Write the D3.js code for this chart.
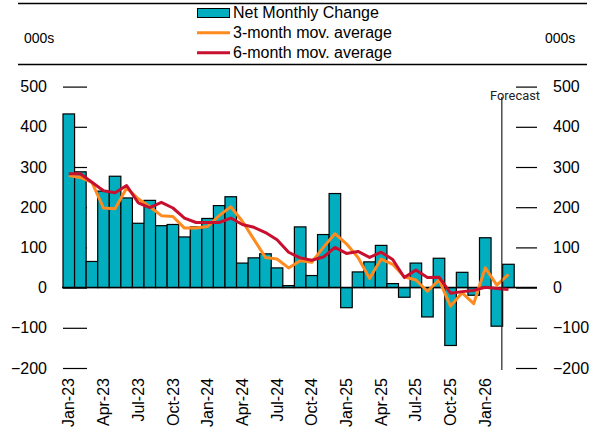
<!DOCTYPE html>
<html><head><meta charset="utf-8">
<script src="https://cdn.jsdelivr.net/npm/d3@7"></script>
<style>
html,body{margin:0;padding:0;background:#fff;}
svg{display:block;font-family:"Liberation Sans",Arial,sans-serif;}
</style></head>
<body><svg id="c" width="601" height="435"></svg>
<script>
const months = ["Jan-23","Feb-23","Mar-23","Apr-23","May-23","Jun-23","Jul-23","Aug-23","Sep-23","Oct-23","Nov-23","Dec-23",
"Jan-24","Feb-24","Mar-24","Apr-24","May-24","Jun-24","Jul-24","Aug-24","Sep-24","Oct-24","Nov-24","Dec-24",
"Jan-25","Feb-25","Mar-25","Apr-25","May-25","Jun-25","Jul-25","Aug-25","Sep-25","Oct-25","Nov-25","Dec-25",
"Jan-26","Feb-26","Mar-26"];
const netChange = [432,288,65,240,277,223,160,217,154,157,126,151,172,204,226,61,74,84,49,5,151,30,132,234,-50,39,64,105,10,-24,61,-73,73,-144,38,-19,124,-96,58];
const ma3 = [279,274,262,198,196,248,221,201,179,177,148,148,152,179,201,165,120,75,71,49,67,63,100,134,109,75,23,71,58,27,19,-9,19,-46,-13,-40,49,6,33];
const ma6 = [283,283,262,241,236,254,211,199,212,198,173,162,162,162,173,157,150,137,119,88,74,68,76,100,85,90,75,88,70,25,44,25,26,-14,-10,-7,1,-2,-5];
const xTickLabels = ["Jan-23","Apr-23","Jul-23","Oct-23","Jan-24","Apr-24","Jul-24","Oct-24","Jan-25","Apr-25","Jul-25","Oct-25","Jan-26"];
const yTicks = [-200,-100,0,100,200,300,400,500];
const forecastStart = "Mar-26";
const seriesNames = ["Net Monthly Change","3-month mov. average","6-month mov. average"];

const BAR = "#00AEBF", ORANGE = "#FF8A1F", RED = "#C8102E";
const svg = d3.select("#c");

const x = d3.scaleBand().domain(months).range([63, 514.2]).padding(0);
const y = d3.scaleLinear().domain([-200, 500]).range([368, 86.6]);
const cx = m => x(m) + x.bandwidth()/2;

// header lines
svg.append("line").attr("x1",18).attr("x2",587).attr("y1",3.5).attr("y2",3.5).attr("stroke","#000").attr("stroke-width",1.5);
svg.append("line").attr("x1",18).attr("x2",587).attr("y1",64.5).attr("y2",64.5).attr("stroke","#000").attr("stroke-width",1.5);
svg.append("text").attr("x",24).attr("y",43).attr("font-size",14).text("000s");
svg.append("text").attr("x",545).attr("y",43).attr("font-size",14).text("000s");

// legend
const lg = svg.append("g");
lg.append("rect").attr("x",197.5).attr("y",8.5).attr("width",32).attr("height",9).attr("fill",BAR).attr("stroke","#000").attr("stroke-width",1);
lg.append("line").attr("x1",197).attr("x2",230).attr("y1",32.7).attr("y2",32.7).attr("stroke",ORANGE).attr("stroke-width",3);
lg.append("line").attr("x1",197).attr("x2",230).attr("y1",52.7).attr("y2",52.7).attr("stroke",RED).attr("stroke-width",3);
seriesNames.forEach((n,i)=>{
  lg.append("text").attr("x",233).attr("y",18+20*i).attr("font-size",16).text(n);
});

// axes (behind bars)
const left = svg.append("g").attr("transform","translate(63,0)")
  .call(d3.axisLeft(y).tickValues(yTicks).tickSize(-24).tickPadding(16).tickFormat(d3.format("d")));
const right = svg.append("g").attr("transform","translate(537,0)")
  .call(d3.axisRight(y).tickValues(yTicks).tickSize(-21).tickPadding(16).tickFormat(d3.format("d")));
[left,right].forEach(g=>{
  g.select(".domain").remove();
  g.selectAll(".tick line").attr("stroke","#000").attr("stroke-width",1.2);
  g.selectAll("text").attr("font-size",16).attr("fill","#000").attr("font-family",'"Liberation Sans",Arial,sans-serif');
});

// bars
svg.append("g").selectAll("rect").data(netChange).join("rect")
  .attr("x",(d,i)=>x(months[i]))
  .attr("width",x.bandwidth())
  .attr("y",d=>y(Math.max(0,d)))
  .attr("height",d=>Math.abs(y(d)-y(0)))
  .attr("fill",BAR).attr("stroke","#000").attr("stroke-width",1.2);

// zero line
svg.append("line").attr("x1",62).attr("x2",537).attr("y1",y(0)).attr("y2",y(0)).attr("stroke","#000").attr("stroke-width",1.5);

// moving averages
const line = d3.line().x((d,i)=>cx(months[i])).y(d=>y(d));
svg.append("path").datum(ma3).attr("d",line).attr("fill","none").attr("stroke",ORANGE).attr("stroke-width",3).attr("stroke-linejoin","round");
svg.append("path").datum(ma6).attr("d",line).attr("fill","none").attr("stroke",RED).attr("stroke-width",3).attr("stroke-linejoin","round");

// forecast marker
const fx = x(forecastStart) - 0.8;
svg.append("line").attr("x1",fx).attr("x2",fx).attr("y1",97).attr("y2",370).attr("stroke","#222").attr("stroke-width",1.2);
svg.append("text").attr("x",490).attr("y",100).attr("font-size",12.5).attr("textLength",50).attr("lengthAdjust","spacingAndGlyphs")
  .attr("fill","#222").attr("font-family","Roboto, sans-serif").text("Forecast");

// x axis labels
svg.append("g").selectAll("text").data(xTickLabels).join("text")
  .attr("transform",d=>`translate(${cx(d)},378) rotate(-90)`)
  .attr("text-anchor","end").attr("dy","0.35em").attr("font-size",16).text(d=>d);
</script></body></html>
